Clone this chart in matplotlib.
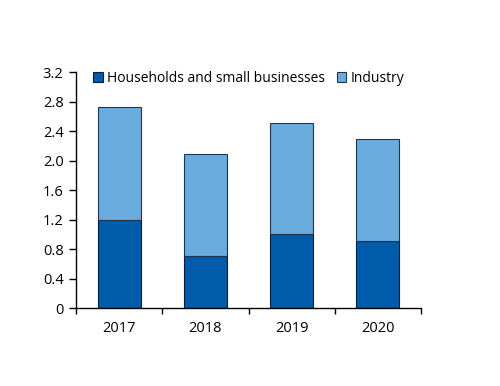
import matplotlib
matplotlib.use('Agg')
import matplotlib.pyplot as plt
from matplotlib.ticker import FuncFormatter, FixedLocator
import numpy as np

years = ['2017', '2018', '2019', '2020']
households = [1.2, 0.71, 1.0, 0.91]
industry_total = [2.73, 2.09, 2.51, 2.30]
industry = [t - h for t, h in zip(industry_total, households)]

plt.rcParams['font.family'] = ['Open Sans', 'DejaVu Sans']

fig = plt.figure(figsize=(5, 3.86), dpi=100)
ax = fig.add_axes([0.152, 0.202, 0.69, 0.611])

x = np.arange(len(years))
ax.bar(x, households, width=0.5, color='#005BAA', edgecolor='#0a1f3d', linewidth=0.8,
       label='Households and small businesses')
ax.bar(x, industry, width=0.5, bottom=households, color='#6AACDE', edgecolor='#1f3550',
       linewidth=0.8, label='Industry')

ax.set_xlim(-0.5, 3.5)
ax.set_ylim(0, 3.2)
ax.set_yticks(np.arange(0, 3.21, 0.4))
ax.yaxis.set_major_formatter(FuncFormatter(lambda v, p: '0' if abs(v) < 1e-9 else '%.1f' % v))
ax.set_xticks(x)
ax.set_xticklabels(years)
ax.xaxis.set_minor_locator(FixedLocator(np.arange(-0.5, 3.6, 1)))
ax.tick_params(axis='x', which='major', length=0, pad=9, labelsize=10.5)
ax.tick_params(axis='x', which='minor', length=4, width=1, direction='out')
ax.tick_params(axis='y', length=5, width=1, direction='out', labelsize=10.5, pad=4)

for s in ['top', 'right']:
    ax.spines[s].set_visible(False)
for s in ['left', 'bottom']:
    ax.spines[s].set_linewidth(1)

ax.legend(loc='upper center', bbox_to_anchor=(0.5, 1.06), ncol=2, frameon=False,
          fontsize=10, handlelength=0.7, handleheight=0.7, handletextpad=0.3,
          columnspacing=0.85)

fig.savefig('out.png', dpi=100)
